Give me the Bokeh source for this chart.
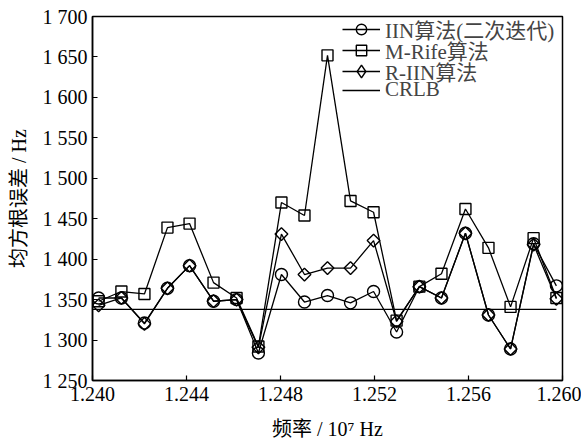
import numpy as np
from bokeh.plotting import figure
from bokeh.models import FixedTicker, Legend, LegendItem
from bokeh.embed import file_html
from bokeh.resources import INLINE

freq = [1.24026, 1.24123, 1.24221, 1.24319, 1.24413, 1.24515, 1.24613, 1.24706,
        1.24804, 1.24902, 1.25000, 1.25098, 1.25196, 1.25294, 1.25391, 1.25485,
        1.25587, 1.25685, 1.25779, 1.25877, 1.25974]
iin = [1352, 1352, 1321, 1364, 1392, 1348, 1350, 1284, 1381, 1347, 1355,
       1346, 1360, 1310, 1366, 1352, 1432, 1331, 1289, 1419, 1367]
mrife = [1348, 1360, 1357, 1439, 1444, 1371, 1352, 1292, 1470, 1454, 1652,
         1472, 1458, 1324, 1366, 1382, 1462, 1414, 1341, 1426, 1352]
riin = [1343, 1352, 1320, 1364, 1392, 1348, 1350, 1291, 1431, 1381, 1389,
        1389, 1423, 1323, 1366, 1352, 1432, 1331, 1289, 1418, 1351]
crlb_x = [1.2400, 1.25974]
crlb = [1338, 1338]

x_ticks = [1.240, 1.244, 1.248, 1.252, 1.256, 1.260]
x_labels = ["1.240", "1.244", "1.248", "1.252", "1.256", "1.260"]
y_ticks = [1250, 1300, 1350, 1400, 1450, 1500, 1550, 1600, 1650, 1700]
y_labels = ["1 250", "1 300", "1 350", "1 400", "1 450", "1 500", "1 550", "1 600", "1 650", "1 700"]

names = ["IIN算法(二次迭代)", "M-Rife算法", "R-IIN算法", "CRLB"]
FONT = "'Liberation Serif', 'Noto Sans CJK SC', serif"
LATIN = "Liberation Serif"

p = figure(width=581, height=442, x_range=(1.240, 1.260), y_range=(1250, 1700),
           output_backend="svg", toolbar_location=None,
           min_border_left=92, min_border_right=19, min_border_top=16, min_border_bottom=60)
p.background_fill_color = "white"
p.outline_line_color = "black"
p.outline_line_width = 1.5
p.grid.visible = False

for ax in (p.xaxis, p.yaxis):
    ax.major_tick_in = 5
    ax.major_tick_out = 0
    ax.minor_tick_line_color = None
    ax.axis_line_width = 1.5
    ax.major_tick_line_width = 1.2
    ax.major_label_text_font = LATIN
    ax.major_label_text_font_size = "20px"
    ax.major_label_text_color = "black"
    ax.axis_label_text_font = FONT
    ax.axis_label_text_font_size = "20px"
    ax.axis_label_text_font_style = "normal"
    ax.axis_label_text_color = "black"

p.xaxis.ticker = FixedTicker(ticks=x_ticks)
p.xaxis.major_label_overrides = dict(zip(x_ticks, x_labels))
p.yaxis.ticker = FixedTicker(ticks=y_ticks)
p.yaxis.major_label_overrides = dict(zip(y_ticks, y_labels))
p.xaxis.axis_label = "频率 / 10⁷ Hz"
p.yaxis.axis_label = "均方根误差 / Hz"
p.xaxis.major_label_standoff = 6
p.yaxis.major_label_standoff = 5
p.xaxis.axis_label_standoff = 14
p.yaxis.axis_label_standoff = 10

lw = 1.3
l1 = p.line(freq, iin, line_color="black", line_width=lw)
s1 = p.scatter(freq, iin, marker="circle", size=12, line_color="black",
               line_width=1.4, fill_alpha=0)
l2 = p.line(freq, mrife, line_color="black", line_width=lw)
s2 = p.scatter(freq, mrife, marker="square", size=11, line_color="black",
               line_width=1.4, fill_alpha=0)
l3 = p.line(freq, riin, line_color="black", line_width=lw)
s3 = p.scatter(freq, riin, marker="square", size=9, angle=np.pi / 4, line_color="black",
               line_width=1.4, fill_alpha=0)
# zero-size diamond renderer: invisible in the plot, gives the legend its diamond
d_leg = p.scatter(freq, riin, marker="diamond", size=0, line_color="black",
                  line_width=1.4, fill_alpha=0)
l4 = p.line(crlb_x, crlb, line_color="black", line_width=lw)

entries = [(names[0], [l1, s1], 26), (names[1], [l2, s2], 26),
           (names[2], [l3, d_leg], 32), (names[3], [l4], 26)]
row_centers = [30.7, 52.0, 72.5, 91.7]   # screen y of each legend row
frame_bottom = 382
row_h = 30
for (lab, rends, gh), c in zip(entries, row_centers):
    h = max(gh, row_h)
    lg = Legend(items=[LegendItem(label=lab, renderers=rends)],
                location=(250, frame_bottom - c - h / 2),
                border_line_color=None, background_fill_alpha=0,
                label_text_font=FONT, label_text_font_size="21px",
                glyph_width=38, glyph_height=gh, label_height=h, spacing=0,
                label_standoff=5, padding=0, margin=0)
    p.add_layout(lg, "center")

open("out.html", "w").write(file_html(p, INLINE))
